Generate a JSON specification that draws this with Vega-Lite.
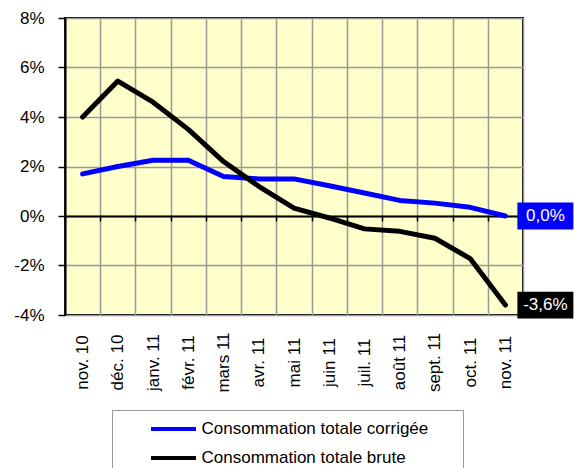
{
  "$schema": "https://vega.github.io/schema/vega-lite/v6.json",
  "width": 458,
  "height": 297,
  "autosize": {"type": "none"},
  "padding": {"left": 65, "top": 18, "right": 51, "bottom": 153},
  "background": "white",
  "config": {
    "font": "Liberation Sans",
    "locale": {"number": {"decimal": ",", "thousands": " ", "grouping": [3], "currency": ["", " €"], "minus": "-", "percent": "%"}},
    "view": {"fill": "#FFFFCC", "stroke": "#000000", "strokeWidth": 2}
  },
  "data": {
    "values": [
      {"month": "nov. 10", "series": "Consommation totale corrigée", "value": 0.017},
      {"month": "déc. 10", "series": "Consommation totale corrigée", "value": 0.020},
      {"month": "janv. 11", "series": "Consommation totale corrigée", "value": 0.0225},
      {"month": "févr. 11", "series": "Consommation totale corrigée", "value": 0.0225},
      {"month": "mars 11", "series": "Consommation totale corrigée", "value": 0.016},
      {"month": "avr. 11", "series": "Consommation totale corrigée", "value": 0.015},
      {"month": "mai 11", "series": "Consommation totale corrigée", "value": 0.015},
      {"month": "juin 11", "series": "Consommation totale corrigée", "value": 0.0122},
      {"month": "juil. 11", "series": "Consommation totale corrigée", "value": 0.0093},
      {"month": "août 11", "series": "Consommation totale corrigée", "value": 0.0063},
      {"month": "sept. 11", "series": "Consommation totale corrigée", "value": 0.0052},
      {"month": "oct. 11", "series": "Consommation totale corrigée", "value": 0.0035},
      {"month": "nov. 11", "series": "Consommation totale corrigée", "value": 0.0},
      {"month": "nov. 10", "series": "Consommation totale brute", "value": 0.040},
      {"month": "déc. 10", "series": "Consommation totale brute", "value": 0.0545},
      {"month": "janv. 11", "series": "Consommation totale brute", "value": 0.046},
      {"month": "févr. 11", "series": "Consommation totale brute", "value": 0.035},
      {"month": "mars 11", "series": "Consommation totale brute", "value": 0.022},
      {"month": "avr. 11", "series": "Consommation totale brute", "value": 0.012},
      {"month": "mai 11", "series": "Consommation totale brute", "value": 0.0032},
      {"month": "juin 11", "series": "Consommation totale brute", "value": -0.0008},
      {"month": "juil. 11", "series": "Consommation totale brute", "value": -0.0052},
      {"month": "août 11", "series": "Consommation totale brute", "value": -0.0062},
      {"month": "sept. 11", "series": "Consommation totale brute", "value": -0.009},
      {"month": "oct. 11", "series": "Consommation totale brute", "value": -0.0172},
      {"month": "nov. 11", "series": "Consommation totale brute", "value": -0.036}
    ]
  },
  "layer": [
    {
      "mark": {"type": "line", "strokeWidth": 5, "strokeCap": "round", "strokeJoin": "round"},
      "encoding": {
        "x": {
          "field": "month", "type": "ordinal", "sort": null,
          "scale": {"type": "band", "paddingInner": 0, "paddingOuter": 0},
          "axis": {"title": null, "labelAngle": -90, "labelAlign": "center", "labelBaseline": "middle", "labelPadding": 47, "labelFontSize": 17, "labelColor": "#000000", "ticks": false, "domain": false, "grid": true, "gridColor": "#999999", "gridWidth": 1.5, "tickBand": "extent", "labelOverlap": false}
        },
        "y": {
          "field": "value", "type": "quantitative",
          "scale": {"domain": [-0.04, 0.08], "nice": false, "zero": false},
          "axis": {"title": null, "values": [-0.04, -0.02, 0, 0.02, 0.04, 0.06, 0.08], "format": ".0%", "labelFontSize": 17, "labelColor": "#000000", "labelPadding": 14, "tickSize": 7, "tickColor": "#000000", "tickWidth": 1.5, "domainColor": "#000000", "domainWidth": 2, "gridColor": "#999999", "gridWidth": 1.5}
        },
        "color": {
          "field": "series", "type": "nominal", "sort": null,
          "scale": {"domain": ["Consommation totale corrigée", "Consommation totale brute"], "range": ["#0000FF", "#000000"]},
          "legend": {"title": null, "orient": "none", "legendX": 47, "legendY": 392, "direction": "vertical", "symbolType": "M-2.25,0L2.25,0", "symbolStrokeWidth": 4, "symbolSize": 400, "symbolOffset": 42.5, "labelOffset": 16, "labelFontSize": 17, "labelColor": "#000000", "labelLimit": 0, "rowPadding": 9, "padding": 7, "strokeColor": "#999999", "fillColor": "white", "labelExpr": "datum.label + '\u2009\u2800\u2800'"}
        }
      }
    },
    {
      "transform": [{"filter": "datum.month == 'nov. 11'"}],
      "mark": {"type": "point", "shape": "M-1,-0.48L1,-0.48L1,0.48L-1,0.48Z", "filled": true, "size": 3136, "xOffset": 40, "opacity": 1, "strokeWidth": 0},
      "encoding": {
        "x": {
          "field": "month", "type": "ordinal", "sort": null,
          "axis": {"title": null, "orient": "bottom", "offset": -99, "labels": false, "ticks": true, "tickSize": 5, "tickColor": "#000000", "tickWidth": 1.5, "domain": true, "domainColor": "#000000", "domainWidth": 2, "grid": false, "tickBand": "extent"}
        },
        "y": {"field": "value", "type": "quantitative"},
        "fill": {
          "field": "series", "type": "nominal",
          "scale": {"domain": ["Consommation totale corrigée", "Consommation totale brute"], "range": ["#0000FF", "#000000"]},
          "legend": null
        }
      }
    },
    {
      "transform": [{"filter": "datum.month == 'nov. 11'"}],
      "mark": {"type": "text", "color": "white", "fontSize": 17, "xOffset": 40, "align": "center", "baseline": "middle"},
      "encoding": {
        "x": {"field": "month", "type": "ordinal", "sort": null, "axis": null},
        "y": {"field": "value", "type": "quantitative"},
        "text": {"field": "value", "type": "quantitative", "format": ".1%"}
      }
    }
  ],
  "resolve": {"axis": {"x": "independent"}}
}
